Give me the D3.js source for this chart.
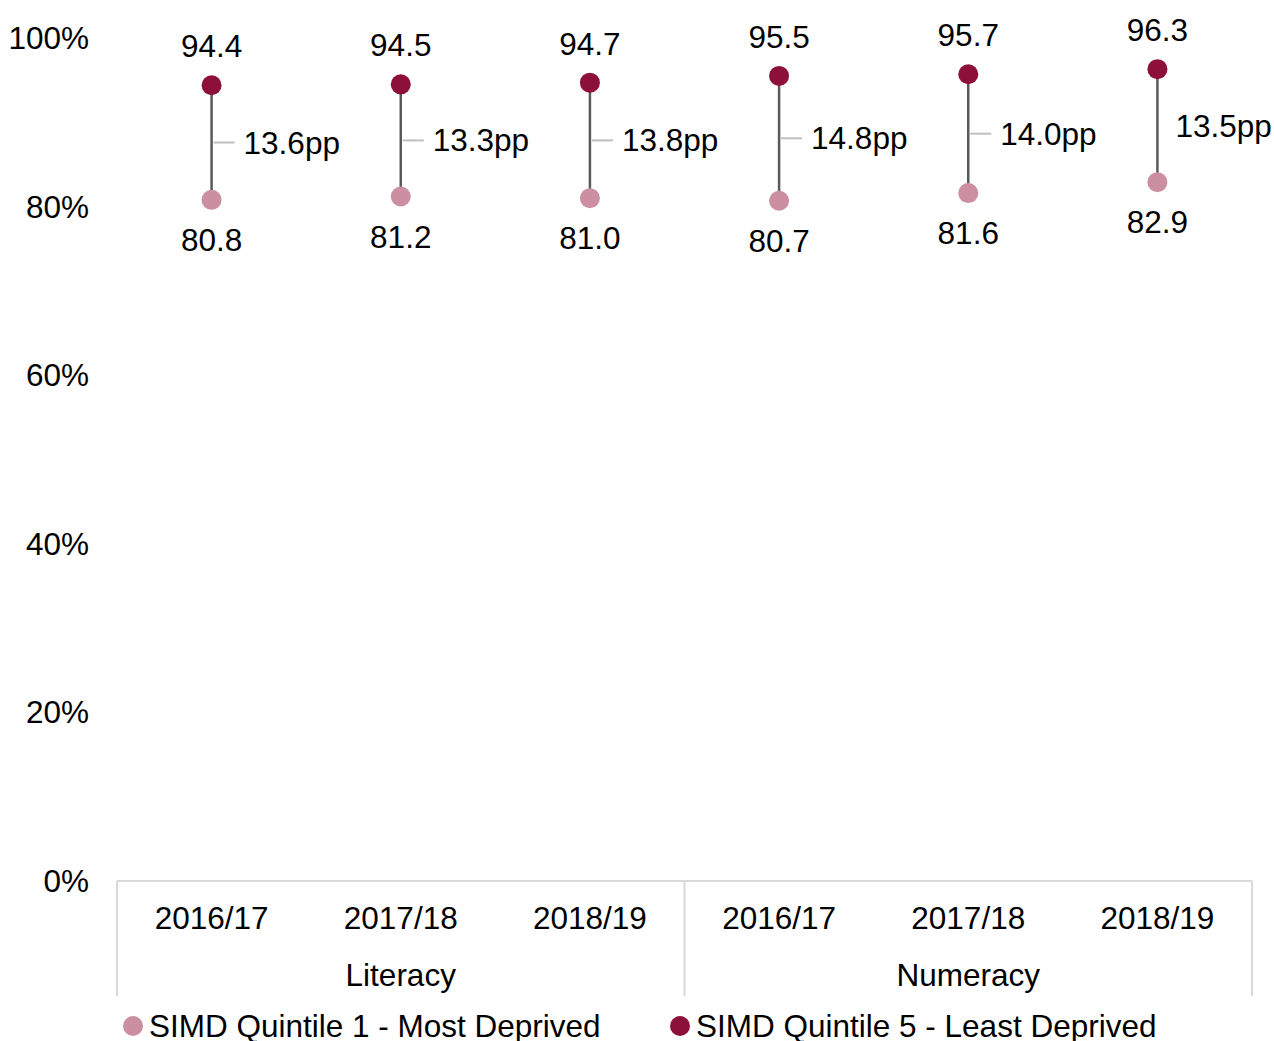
<!DOCTYPE html>
<html>
<head>
<meta charset="utf-8">
<script src="https://cdn.jsdelivr.net/npm/d3@7"></script>
<style>
  body { margin: 0; background: #fff; }
  svg text { font-family: Arial, "Liberation Sans", Arimo, sans-serif; fill: #000; }
</style>
</head>
<body>
<svg id="chart" width="1274" height="1041"></svg>
<script>
// data
var years = ["2016/17", "2017/18", "2018/19", "2016/17", "2017/18", "2018/19"];
var groups = ["Literacy", "Numeracy"];
var quintile1 = [80.8, 81.2, 81.0, 80.7, 81.6, 82.9];
var quintile5 = [94.4, 94.5, 94.7, 95.5, 95.7, 96.3];
var gapLabels = ["13.6pp", "13.3pp", "13.8pp", "14.8pp", "14.0pp", "13.5pp"];
var yTicks = [0, 20, 40, 60, 80, 100];
var seriesNames = ["SIMD Quintile 1 - Most Deprived", "SIMD Quintile 5 - Least Deprived"];

var lowColor = "#cc8fa1", highColor = "#8c1039";
var fontSize = 31.5;

var svg = d3.select("#chart");

var x = d3.scaleBand()
	.domain(d3.range(years.length))
	.range([117, 1252]);

var y = d3.scaleLinear()
	.domain([0, 100])
	.range([881, 38]);

// y axis labels (no line)
svg.append("g").selectAll("text")
	.data(yTicks)
	.enter().append("text")
		.attr("x", 89)
		.attr("y", function(d) { return y(d); })
		.attr("dy", "0.35em")
		.attr("text-anchor", "end")
		.style("font-size", fontSize + "px")
		.text(function(d) { return d + "%"; });

// category axis
var axisG = svg.append("g").attr("class", "x-axis");
axisG.append("line")
	.attr("x1", x.range()[0]).attr("x2", x.range()[1])
	.attr("y1", y(0)).attr("y2", y(0))
	.style("stroke", "#d9d9d9").style("stroke-width", 2);

var groupEdges = [0, 3, 6].map(function(i) {
	return i < years.length ? x(i) : x.range()[1];
});
axisG.selectAll("line.sep")
	.data(groupEdges)
	.enter().append("line")
		.attr("class", "sep")
		.attr("x1", function(d) { return d; }).attr("x2", function(d) { return d; })
		.attr("y1", y(0)).attr("y2", 996)
		.style("stroke", "#d9d9d9").style("stroke-width", 2);

axisG.selectAll("text.year")
	.data(years)
	.enter().append("text")
		.attr("class", "year")
		.attr("x", function(d, i) { return x(i) + x.bandwidth() / 2; })
		.attr("y", 918)
		.attr("dy", "0.35em")
		.attr("text-anchor", "middle")
		.style("font-size", fontSize + "px")
		.text(function(d) { return d; });

axisG.selectAll("text.group")
	.data(groups)
	.enter().append("text")
		.attr("class", "group")
		.attr("x", function(d, i) { return (groupEdges[i] + groupEdges[i + 1]) / 2; })
		.attr("y", 975)
		.attr("dy", "0.35em")
		.attr("text-anchor", "middle")
		.style("font-size", fontSize + "px")
		.text(function(d) { return d; });

// dumbbells
var cx = function(i) { return x(i) + x.bandwidth() / 2; };
var items = d3.range(years.length);

var bells = svg.append("g").selectAll("g")
	.data(items)
	.enter().append("g");

bells.append("line")
	.attr("x1", cx).attr("x2", cx)
	.attr("y1", function(i) { return y(quintile5[i]); })
	.attr("y2", function(i) { return y(quintile1[i]); })
	.style("stroke", "#595959").style("stroke-width", 2.5);

// gap leader lines (last one has none)
bells.filter(function(i) { return i < years.length - 1; })
	.append("line")
		.attr("x1", function(i) { return cx(i) + 2; })
		.attr("x2", function(i) { return cx(i) + 23; })
		.attr("y1", function(i) { return (y(quintile5[i]) + y(quintile1[i])) / 2; })
		.attr("y2", function(i) { return (y(quintile5[i]) + y(quintile1[i])) / 2; })
		.style("stroke", "#bfbfbf").style("stroke-width", 2);

bells.append("text")
	.attr("x", function(i) { return cx(i) + (i < years.length - 1 ? 32 : 18); })
	.attr("y", function(i) { return (y(quintile5[i]) + y(quintile1[i])) / 2; })
	.attr("dy", "0.35em")
	.style("font-size", fontSize + "px")
	.text(function(i) { return gapLabels[i]; });

bells.append("circle")
	.attr("cx", cx)
	.attr("cy", function(i) { return y(quintile1[i]); })
	.attr("r", 10)
	.style("fill", lowColor);

bells.append("circle")
	.attr("cx", cx)
	.attr("cy", function(i) { return y(quintile5[i]); })
	.attr("r", 10)
	.style("fill", highColor);

bells.append("text")
	.attr("x", cx)
	.attr("y", function(i) { return y(quintile5[i]) - 39; })
	.attr("dy", "0.35em")
	.attr("text-anchor", "middle")
	.style("font-size", fontSize + "px")
	.text(function(i) { return quintile5[i].toFixed(1); });

bells.append("text")
	.attr("x", cx)
	.attr("y", function(i) { return y(quintile1[i]) + 40; })
	.attr("dy", "0.35em")
	.attr("text-anchor", "middle")
	.style("font-size", fontSize + "px")
	.text(function(i) { return quintile1[i].toFixed(1); });

// legend
var legendX = [133, 680];
var legend = svg.append("g").selectAll("g")
	.data(seriesNames)
	.enter().append("g")
		.attr("transform", function(d, i) { return "translate(" + legendX[i] + ",1026)"; });

legend.append("circle")
	.attr("r", 10)
	.style("fill", function(d, i) { return i == 0 ? lowColor : highColor; });

legend.append("text")
	.attr("x", 16)
	.attr("dy", "0.35em")
	.style("font-size", fontSize + "px")
	.text(function(d) { return d; });
</script>
</body>
</html>
